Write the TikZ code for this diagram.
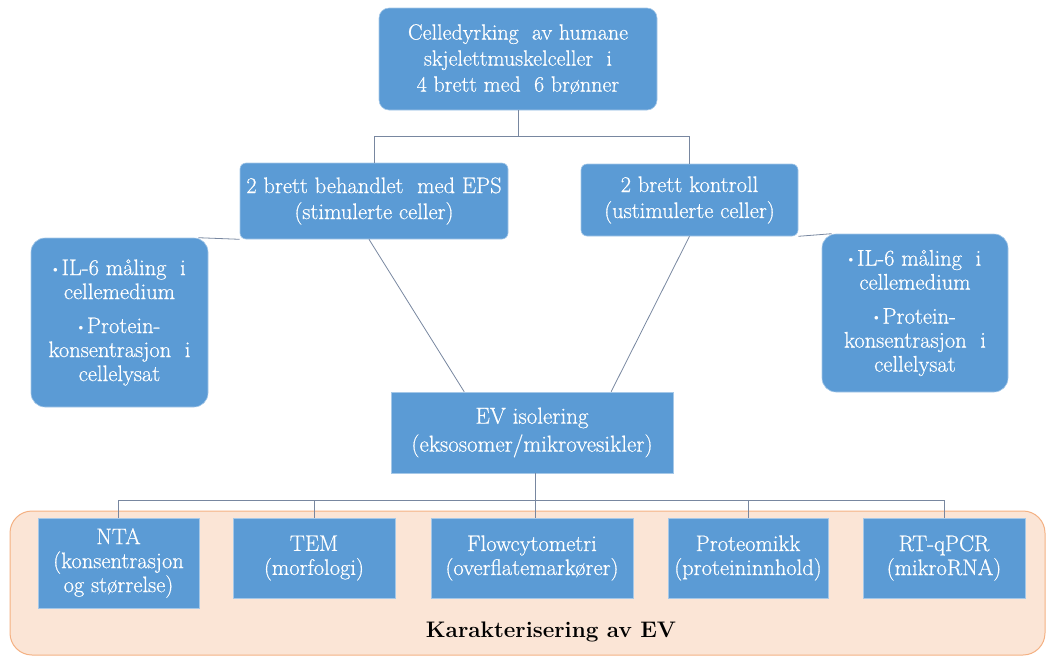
\documentclass[tikz,border=0pt]{standalone}
\usepackage{fontspec}
\setmainfont{Latin Modern Roman}[UprightFeatures={FakeBold=0.6}]
\usetikzlibrary{calc}
\definecolor{boxblue}{HTML}{5B9BD5}
\definecolor{linkgray}{RGB}{120,135,160}
\definecolor{peach}{HTML}{FBE5D6}
\definecolor{peachline}{HTML}{F4B183}
\newcommand{\itemdot}{\raisebox{0.3ex}{\fontsize{9}{9}\selectfont$\bullet$}\,}
\begin{document}
\begin{tikzpicture}[x=1pt, y=-1pt,
        box/.style={fill=boxblue, draw=boxblue!55!white, line width=0.6pt, text=white,
            align=center, inner sep=0pt, font=\fontsize{22.5}{24}\selectfont},
        link/.style={draw=linkgray, line width=0.8pt}]
        \useasboundingbox (0,0) rectangle (1052,657);

        % karakterisering
        \draw[fill=peach, draw=peachline, line width=1pt, rounded corners=22pt] (10,511) rectangle (1045,655);
        \node[font=\fontsize{22.5}{25}\selectfont\bfseries] (kar) at (551,632) {Karakterisering av EV};

        \node[box, rounded corners=10pt, minimum width=278pt, minimum height=102pt, font=\fontsize{22}{26}\selectfont] (top) at (518,59)
            {Celledyrking\ \ av humane\\skjelettmuskelceller\ \ i\\4 brett med\ \ 6 brønner};
        \node[box, rounded corners=6pt, minimum width=268pt, minimum height=76pt, font=\fontsize{22.5}{26}\selectfont] (stim) at (374,201)
            {2 brett behandlet\ \ med EPS\\(stimulerte celler)};
        \node[box, rounded corners=6pt, minimum width=217pt, minimum height=72pt, font=\fontsize{22.5}{26}\selectfont] (ctrl) at (689.5,200)
            {2 brett kontroll\\(ustimulerte celler)};
        \node[box, rounded corners=14pt, minimum width=177pt, minimum height=169pt] (sideL) at (119.5,322.5)
            {\itemdot IL-6 måling\ \ i\\cellemedium\\[10pt]\itemdot Protein-\\konsentrasjon\ \ i\\cellelysat};
        \node[box, rounded corners=14pt, minimum width=186pt, minimum height=158pt] (sideR) at (915,313)
            {\itemdot IL-6 måling\ \ i\\cellemedium\\[10pt]\itemdot Protein-\\konsentrasjon\ \ i\\cellelysat};
        \node[box, minimum width=282pt, minimum height=81pt, font=\fontsize{23}{28}\selectfont] (ev) at (532,432.5)
            {EV isolering\\(eksosomer/mikrovesikler)};

        \node[box, minimum width=161pt, minimum height=90pt] (nta) at (118.5,563) {NTA\\(konsentrasjon\\og størrelse)};
        \node[box, minimum width=162pt, minimum height=80pt] (tem) at (314,558) {TEM\\(morfologi)};
        \node[box, minimum width=202pt, minimum height=80pt] (flow) at (532,558) {Flowcytometri\\(overflatemarkører)};
        \node[box, minimum width=160pt, minimum height=80pt] (prot) at (748,558) {Proteomikk\\(proteininnhold)};
        \node[box, minimum width=162pt, minimum height=80pt] (rt) at (944,558) {RT-qPCR\\(mikroRNA)};

        % connectors
        \draw[link] (top.south) -- ++(0,26) coordinate (split1);
        \draw[link] (split1) -| (stim.north);
        \draw[link] (split1) -| (ctrl.north);
        \draw[link] ([xshift=-10pt]sideL.north east) -- (stim.south west);
        \draw[link] (ctrl.south east) -- ([xshift=10pt]sideR.north west);
        \draw[link] ([xshift=-5pt]stim.south) -- ($(ev.north west)!0.26!(ev.north east)$);
        \draw[link] (ctrl.south) -- ($(ev.north west)!0.78!(ev.north east)$);

        \draw[link] ([xshift=3pt]ev.south) -- ++(0,27) coordinate (split2);
        \draw[link] (split2 -| nta.north) -- (split2 -| rt.north);
        \draw[link] (split2 -| nta.north) -- (nta.north);
        \draw[link] (split2 -| tem.north) -- (tem.north);
        \draw[link] (split2) -- (split2 |- flow.north);
        \draw[link] (split2 -| prot.north) -- (prot.north);
        \draw[link] (split2 -| rt.north) -- (rt.north);
    \end{tikzpicture}
\end{document}
